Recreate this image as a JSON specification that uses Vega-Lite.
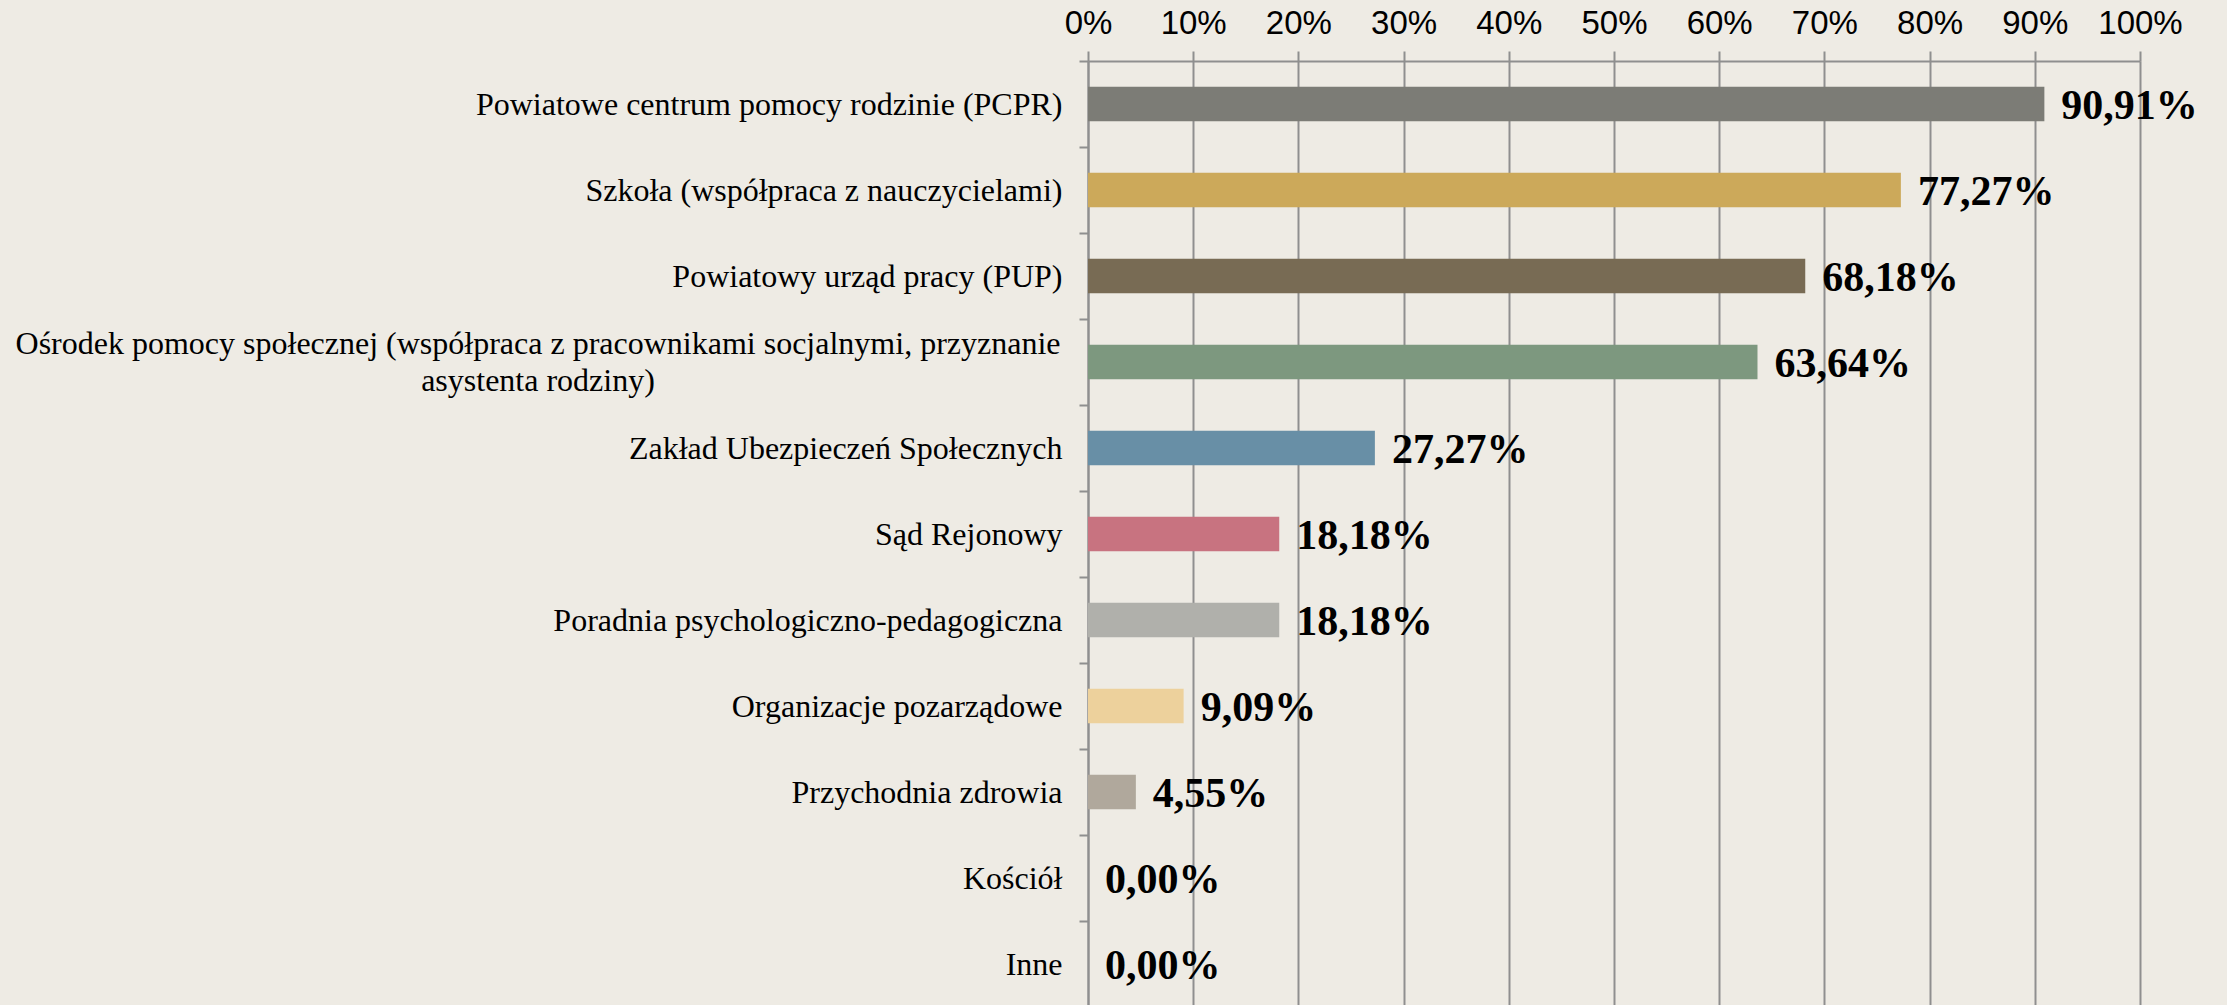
{
  "$schema": "https://vega.github.io/schema/vega-lite/v6.json",
  "width": 1052,
  "height": 946,
  "autosize": {"type": "none"},
  "padding": {"left": 1088, "top": 61, "right": 87, "bottom": 0},
  "background": "#EEEBE4",
  "config": {"view": {"stroke": null}},
  "data": {
    "values": [
      {"cat": "Powiatowe centrum pomocy rodzinie (PCPR)", "v": 0.9091},
      {"cat": "Szkoła (współpraca z nauczycielami)", "v": 0.7727},
      {"cat": "Powiatowy urząd pracy (PUP)", "v": 0.6818},
      {"cat": "Ośrodek pomocy społecznej (współpraca z pracownikami socjalnymi, przyznanie|asystenta rodziny)", "v": 0.6364},
      {"cat": "Zakład Ubezpieczeń Społecznych", "v": 0.2727},
      {"cat": "Sąd Rejonowy", "v": 0.1818},
      {"cat": "Poradnia psychologiczno-pedagogiczna", "v": 0.1818},
      {"cat": "Organizacje pozarządowe", "v": 0.0909},
      {"cat": "Przychodnia zdrowia", "v": 0.0455},
      {"cat": "Kościół", "v": 0},
      {"cat": "Inne", "v": 0}
    ]
  },
  "encoding": {
    "y": {
      "field": "cat", "type": "nominal", "sort": null,
      "scale": {"paddingInner": 0, "paddingOuter": 0},
      "axis": {
        "title": null,
        "tickBand": "extent",
        "labelExpr": "length(split(datum.value, '|')) > 1 ? '' : datum.value",
        "labelFont": "Liberation Serif",
        "labelFontSize": 32,
        "labelColor": "#000000",
        "labelPadding": 17,
        "labelLimit": 1100,
        "tickSize": 9,
        "tickColor": "#8F8F8F",
        "tickWidth": 2,
        "domainColor": "#8F8F8F",
        "domainWidth": 2
      }
    }
  },
  "layer": [
    {
      "mark": {"type": "bar", "height": {"band": 0.4}},
      "encoding": {
        "x": {
          "field": "v", "type": "quantitative",
          "scale": {"domain": [0, 1], "nice": false},
          "axis": {
            "orient": "top",
            "title": null,
            "values": [0, 0.1, 0.2, 0.3, 0.4, 0.5, 0.6, 0.7, 0.8, 0.9, 1],
            "format": ".0%",
            "labelOverlap": false,
            "labelFlush": false,
            "labelFont": "Liberation Sans Narrow, Liberation Sans",
            "labelFontSize": 33,
            "labelColor": "#000000",
            "labelPadding": 11,
            "tickSize": 10,
            "tickColor": "#8F8F8F",
            "tickWidth": 2,
            "domainColor": "#8F8F8F",
            "domainWidth": 2,
            "grid": true,
            "gridColor": "#8F8F8F",
            "gridWidth": 2,
            "gridOpacity": 1
          }
        },
        "color": {
          "field": "cat", "type": "nominal", "sort": null, "legend": null,
          "scale": {"range": ["#7C7C76", "#CCA95A", "#786B54", "#7D987F", "#688FA6", "#C87380", "#B0B0AB", "#EDD19C", "#B0A89C", "#B0A89C", "#B0A89C"]}
        }
      }
    },
    {
      "transform": [{"calculate": "replace(format(datum.v, '.2%'), '.', ',')", "as": "lbl"}],
      "mark": {"type": "text", "align": "left", "baseline": "alphabetic", "dx": 17, "dy": 15, "font": "Liberation Serif", "fontWeight": "bold", "fontSize": 42, "color": "#000000"},
      "encoding": {
        "x": {"field": "v", "type": "quantitative"},
        "text": {"field": "lbl"}
      }
    },
    {
      "transform": [{"filter": "length(split(datum.cat, '|')) > 1"}],
      "mark": {"type": "text", "align": "center", "baseline": "middle", "dx": -550, "dy": -18, "lineBreak": "|", "lineHeight": 37, "font": "Liberation Serif", "fontSize": 32, "color": "#000000"},
      "encoding": {
        "x": {"datum": 0, "type": "quantitative"},
        "text": {"field": "cat"}
      }
    }
  ]
}
